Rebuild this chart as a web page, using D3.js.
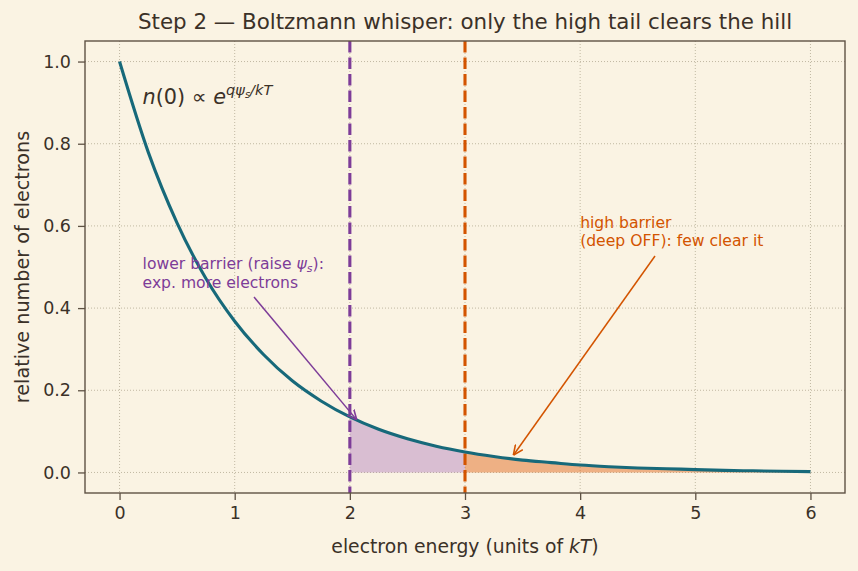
<!DOCTYPE html>
<html><head><meta charset="utf-8">
<script src="https://cdn.jsdelivr.net/npm/d3@7/dist/d3.min.js"></script>
<style>body{margin:0;background:#faf3e3;} svg{display:block;font-family:"DejaVu Sans",sans-serif;}</style>
</head><body>
<script>
const energy = [0,0.25,0.5,0.75,1,1.25,1.5,1.75,2,2.25,2.5,2.75,3,3.25,3.5,3.75,4,4.25,4.5,4.75,5,5.25,5.5,5.75,6];
const population = [1.000,0.779,0.607,0.472,0.368,0.287,0.223,0.174,0.135,0.105,0.082,0.064,0.050,0.039,0.030,0.024,0.018,0.014,0.011,0.009,0.007,0.005,0.004,0.003,0.002];
const xTicks = [0,1,2,3,4,5,6];
const yTicks = [0.0,0.2,0.4,0.6,0.8,1.0];
const barriers = [2,3];

const W=858,H=571;
const m={l:85,r:13,t:41,b:78};
const svg=d3.select("body").append("svg").attr("width",W).attr("height",H);
svg.append("rect").attr("width",W).attr("height",H).attr("fill","#faf3e3");
const x=d3.scaleLinear().domain([-0.3,6.3]).range([m.l,W-m.r]);
const y=d3.scaleLinear().domain([-0.05,1.05]).range([H-m.b,m.t]);
const data=energy.map((e,i)=>({x:e,y:population[i]}));
const ink="#3b3128", spine="#5e5244";

// grid
const g=svg.append("g");
g.selectAll("line.gx").data(xTicks).join("line").attr("x1",d=>x(d)).attr("x2",d=>x(d)).attr("y1",m.t).attr("y2",H-m.b)
 .attr("stroke","#b3a992").attr("stroke-width",0.8).attr("stroke-dasharray","1,2");
g.selectAll("line.gy").data(yTicks).join("line").attr("y1",d=>y(d)).attr("y2",d=>y(d)).attr("x1",m.l).attr("x2",W-m.r)
 .attr("stroke","#b3a992").attr("stroke-width",0.8).attr("stroke-dasharray","1,2");

// fills
const area=d3.area().x(d=>x(d.x)).y0(y(0)).y1(d=>y(d.y)).curve(d3.curveMonotoneX);
svg.append("path").datum(data.filter(d=>d.x>=2&&d.x<=3)).attr("d",area).attr("fill","#8e44ad").attr("fill-opacity",0.3);
svg.append("path").datum(data.filter(d=>d.x>=3)).attr("d",area).attr("fill","#e06010").attr("fill-opacity",0.45);

// barriers
const bcol=["#7d3c98","#d35400"];
svg.selectAll("line.bar").data(barriers).join("line").attr("x1",d=>x(d)).attr("x2",d=>x(d)).attr("y1",m.t).attr("y2",H-m.b)
 .attr("stroke",(d,i)=>bcol[i]).attr("stroke-width",3.1).attr("stroke-dasharray","11.5,5");

// curve
svg.append("path").datum(data).attr("d",d3.line().x(d=>x(d.x)).y(d=>y(d.y)).curve(d3.curveMonotoneX))
 .attr("fill","none").attr("stroke","#17697a").attr("stroke-width",3.1);

// axes
const xa=svg.append("g").attr("transform",`translate(0,${H-m.b})`).call(d3.axisBottom(x).tickValues(xTicks).tickFormat(d3.format("d")).tickSize(7).tickPadding(7));
const ya=svg.append("g").attr("transform",`translate(${m.l},0)`).call(d3.axisLeft(y).tickValues(yTicks).tickFormat(d3.format(".1f")).tickSize(7).tickPadding(7));
[xa,ya].forEach(a=>{a.attr("font-size",null).attr("font-family",null);a.select(".domain").remove();a.selectAll(".tick line").attr("stroke",spine).attr("stroke-width",1.3);
 a.selectAll(".tick text").attr("fill",ink).style("font-size","17.5px").style("font-family","DejaVu Sans");});
svg.append("rect").attr("x",m.l).attr("y",m.t).attr("width",W-m.r-m.l).attr("height",H-m.b-m.t).attr("fill","none").attr("stroke",spine).attr("stroke-width",1.4);

// title & labels
svg.append("text").attr("x",(m.l+W-m.r)/2).attr("y",29).attr("text-anchor","middle").attr("font-size",21.4).attr("fill",ink)
 .text("Step 2 — Boltzmann whisper: only the high tail clears the hill");
const xl=svg.append("text").attr("x",(m.l+W-m.r)/2).attr("y",553).attr("text-anchor","middle").attr("font-size",18.8).attr("fill",ink);
xl.append("tspan").text("electron energy (units of ");xl.append("tspan").attr("font-style","italic").text("kT");xl.append("tspan").text(")");
svg.append("text").attr("transform",`translate(29,${(m.t+H-m.b)/2}) rotate(-90)`).attr("text-anchor","middle").attr("font-size",19.2).attr("fill",ink)
 .text("relative number of electrons");

// formula
const f=svg.append("text").attr("x",x(0.2)).attr("y",y(0.9)+1).attr("font-size",20.8).attr("fill",ink);
f.append("tspan").attr("font-style","italic").text("n");
f.append("tspan").text("(0) ∝ ");
f.append("tspan").attr("font-style","italic").text("e");
f.append("tspan").attr("font-style","italic").attr("font-size",14.5).attr("dy",-9).text("qψ");
f.append("tspan").attr("font-style","italic").attr("font-size",10).attr("dy",3).text("s");
f.append("tspan").attr("font-style","italic").attr("font-size",14.5).attr("dy",-3).text("/kT");

// arrows
const defs=svg.append("defs");
[["ap","#7d3c98"],["ao","#d35400"]].forEach(([id,c])=>{
 defs.append("marker").attr("id",id).attr("viewBox","0 0 10 10").attr("refX",10).attr("refY",5).attr("markerWidth",10).attr("markerHeight",10)
  .attr("markerUnits","userSpaceOnUse").attr("orient","auto")
  .append("path").attr("d","M0,0.5 L10,5 L0,9.5").attr("fill","none").attr("stroke",c).attr("stroke-width",1.6);
});
svg.append("line").attr("x1",254).attr("y1",297).attr("x2",x(2.06)).attr("y2",y(0.128)).attr("stroke","#7d3c98").attr("stroke-width",1.5).attr("marker-end","url(#ap)");
svg.append("line").attr("x1",655).attr("y1",256).attr("x2",x(3.42)).attr("y2",y(0.042)).attr("stroke","#d35400").attr("stroke-width",1.5).attr("marker-end","url(#ao)");

// annotation texts
const fs=15.6;
const t1=svg.append("text").attr("font-size",fs).attr("fill","#7d3c98");
const l1=t1.append("tspan").attr("x",x(0.2)).attr("y",y(0.45)-19);
l1.append("tspan").text("lower barrier (raise ");
l1.append("tspan").attr("font-style","italic").text("ψ");
l1.append("tspan").attr("font-style","italic").attr("font-size",11).attr("dy",3).text("s");
l1.append("tspan").attr("dy",-3).text("):");
t1.append("tspan").attr("x",x(0.2)).attr("y",y(0.45)).text("exp. more electrons");
const t2=svg.append("text").attr("font-size",fs).attr("fill","#d35400");
t2.append("tspan").attr("x",x(4.0)).attr("y",y(0.55)-18).text("high barrier");
t2.append("tspan").attr("x",x(4.0)).attr("y",y(0.55)).text("(deep OFF): few clear it");
</script>
</body></html>
